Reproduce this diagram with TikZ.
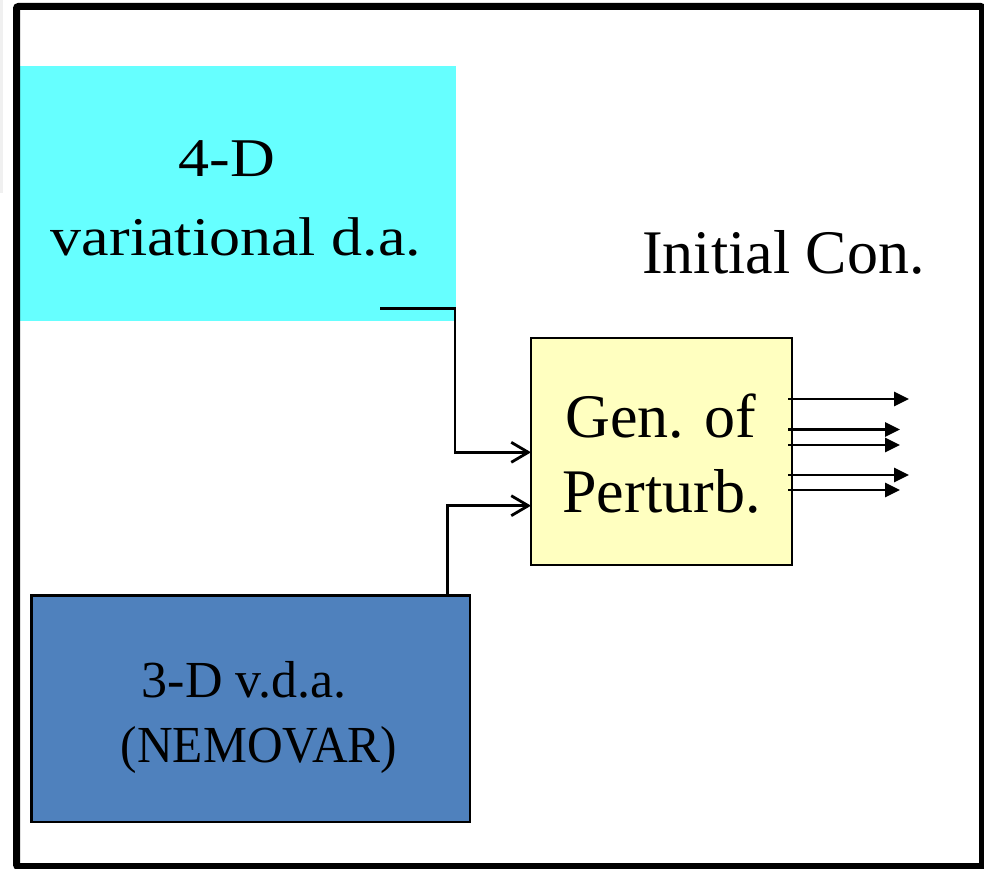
\documentclass[tikz,border=0pt]{standalone}
\usepackage{graphicx}
\usepackage{fontspec}
\setmainfont{Liberation Serif}
\usetikzlibrary{arrows.meta}
\definecolor{dacyan}{HTML}{66FFFF}
\definecolor{dablue}{HTML}{4F81BD}
\definecolor{dayellow}{HTML}{FFFFC0}
\begin{document}
\begin{tikzpicture}[x=1pt,y=-1pt,
  panel/.style={inner sep=0pt, outer sep=0pt, anchor=north west},
  lbl/.style={inner sep=0pt, anchor=base, font=\fontsize{62}{70}\selectfont},
  lblsmall/.style={lbl, font=\fontsize{52}{60}\selectfont},
  feed/.style={line width=2.8pt, -{Straight Barb[length=17pt,width=20pt]}},
  emit/.style={line width=2.8pt, -{Triangle[length=15pt,width=14pt]}}]
  \useasboundingbox (0,0) rectangle (984,869);
  \fill[white] (0,0) rectangle (984,869);
  \fill[gray!12] (0,0) rectangle (3,193);

  % the three blocks
  \node[panel, fill=dacyan, minimum width=436pt, minimum height=255pt] (vda4) at (20,66) {};
  \node[panel, fill=dablue, draw, line width=2.5pt, minimum width=438.7pt, minimum height=226.7pt] (vda3) at (31.3,595.3) {};
  \node[panel, fill=dayellow, draw, line width=2pt, minimum width=261.3pt, minimum height=226.7pt] (gen) at (531,338.3) {};

  % outer frame
  \node[panel, draw, line width=7pt, rounded corners=2pt, minimum width=966pt, minimum height=860pt] (frame) at (16.5,6.5) {};

  % labels
  \node[lbl] (t4d) at (227,177) {\scalebox{1}[0.88]{4-D}};
  \node[lbl] (tvar) at (236,255) {\scalebox{1}[0.88]{variational d.a.}};
  \node[lbl] (tinit) at (783.5,273) {Initial Con.};
  \node[lbl] (tgen) at (661,437) {Gen. of};
  \node[lbl] (tpert) at (661.5,512) {Perturb.};
  \node[lblsmall] (t3d) at (244,697) {3-D v.d.a.};
  \node[lblsmall] (tnemo) at (259,762) {\scalebox{0.95}[1]{(NEMOVAR)}};

  % inputs into the perturbation generator
  \coordinate (f1start) at (380,308.7);
  \coordinate (f1bend) at (455,308.7);
  \coordinate (f1lvl) at (0,452.3);
  \draw[feed] (f1start) -- (f1bend) |- (gen.west |- f1lvl);

  \coordinate (f2foot) at (447.3,0);
  \coordinate (f2lvl) at (0,505.7);
  \draw[feed] (vda3.north -| f2foot) |- (gen.west |- f2lvl);

  % outgoing perturbations
  \coordinate (o1) at (909,399);
  \coordinate (o2) at (900,429.5);
  \coordinate (o3) at (900,445);
  \coordinate (o4) at (909,475);
  \coordinate (o5) at (900,490);
  \foreach \o in {o1,o2,o3,o4,o5}
    \draw[emit] (\o -| gen.east) ++(-4,0) -- (\o);
\end{tikzpicture}
\end{document}
